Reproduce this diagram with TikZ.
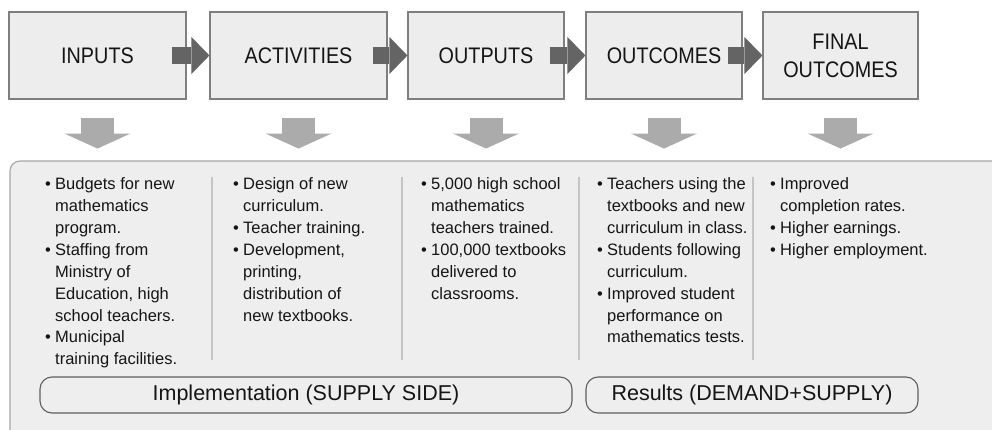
\documentclass[tikz,border=0pt]{standalone}
\usepackage{fontspec}
\setmainfont{Liberation Sans}
\newfontfamily\narrowfont{Liberation Sans}[FakeStretch=0.88]
\usetikzlibrary{arrows.meta,positioning,calc}
\definecolor{chBox}{HTML}{EDEDED}
\definecolor{chEdge}{HTML}{7F7F7F}
\definecolor{chPanel}{HTML}{EEEEEE}
\definecolor{chPanelEdge}{HTML}{A6A6A6}
\definecolor{chFlow}{HTML}{646464}
\definecolor{chDrop}{HTML}{ABABAB}
\definecolor{chRule}{HTML}{C4C4C4}
\definecolor{chLabelEdge}{HTML}{5E5E5E}
\definecolor{chText}{HTML}{151515}
\tikzset{
  stage/.style={
    draw=chEdge, fill=chBox, line width=1.1pt, minimum height=87pt,
    align=center, text=chText, font=\narrowfont\fontsize{22.5}{28}\selectfont
  },
  panel/.style={draw=chPanelEdge, fill=chPanel, line width=1.1pt, rounded corners=10pt},
  items/.style={
    anchor=north west, inner sep=0pt, align=left, text=chText,
    font=\fontsize{16.5}{21.9}\selectfont
  },
  colrule/.style={draw=chRule, line width=1.3pt},
  side/.style={
    draw=chLabelEdge, fill=chPanel, line width=1.1pt, rounded corners=12pt,
    minimum height=36pt, text=chText, font=\fontsize{21.5}{24}\selectfont
  },
  flow/.style={draw=chFlow, line width=17pt, -{Triangle[length=18pt, width=37pt, line width=0pt]}},
  drop/.style={draw=chDrop, line width=33pt, -{Triangle[length=15pt, width=66pt, line width=0pt]}}
}
\newcommand{\bi}{\makebox[10pt][l]{\textbullet}}
\newcommand{\ci}{\hspace*{10pt}}
\begin{document}
\begin{tikzpicture}[x=1pt, y=-1pt]
  \clip (0,0) rectangle (992,430);
  \fill[white] (0,0) rectangle (992,430);

  % results chain
  \node[stage, minimum width=177pt] (inputs) at (97.5,55.5) {INPUTS};
  \node[stage, minimum width=177pt] (activities) at (298.5,55.5) {ACTIVITIES};
  \node[stage, minimum width=156pt] (outputs) at (486,55.5) {OUTPUTS};
  \node[stage, minimum width=156pt] (outcomes) at (664,55.5) {OUTCOMES};
  \node[stage, minimum width=155pt] (finals) at (840.5,55.5) {FINAL\\OUTCOMES};
  \foreach \a/\b in {inputs/activities, activities/outputs, outputs/outcomes, outcomes/finals}
    \draw[flow] ([xshift=-15pt]\a.east) -- (\b.west);
  \foreach \n in {inputs, activities, outputs, outcomes, finals}
    \draw[drop] ([yshift=-18pt]\n.south) -- ++(0,31);

  % details panel
  \draw[panel] (10,161) rectangle (1010,450);
  \foreach \x in {212, 402, 579, 753}
    \draw[colrule] (\x,177) -- (\x,360);

  \node[items] (inlist) at (45,177.5) {\bi Budgets for new\\\ci mathematics\\\ci program.\\
    \bi Staffing from\\\ci Ministry of\\\ci Education, high\\\ci school teachers.\\
    \bi Municipal\\\ci training facilities.};
  \node[items] (actlist) at (233,177.5) {\bi Design of new\\\ci curriculum.\\
    \bi Teacher training.\\
    \bi Development,\\\ci printing,\\\ci distribution of\\\ci new textbooks.};
  \node[items] (outlist) at (421,177.5) {\bi 5,000 high school\\\ci mathematics\\\ci teachers trained.\\
    \bi 100,000 textbooks\\\ci delivered to\\\ci classrooms.};
  \node[items] (ocmlist) at (597,177.5) {\bi Teachers using the\\\ci textbooks and new\\\ci curriculum in class.\\
    \bi Students following\\\ci curriculum.\\
    \bi Improved student\\\ci performance on\\\ci mathematics tests.};
  \node[items] (finlist) at (770,177.5) {\bi Improved\\\ci completion rates.\\
    \bi Higher earnings.\\
    \bi Higher employment.};

  \node[side, minimum width=532pt] (supply) at (306,395) {Implementation (SUPPLY SIDE)};
  \node[side, minimum width=332pt] (demand) at (752,395) {Results (DEMAND+SUPPLY)};
\end{tikzpicture}
\end{document}
